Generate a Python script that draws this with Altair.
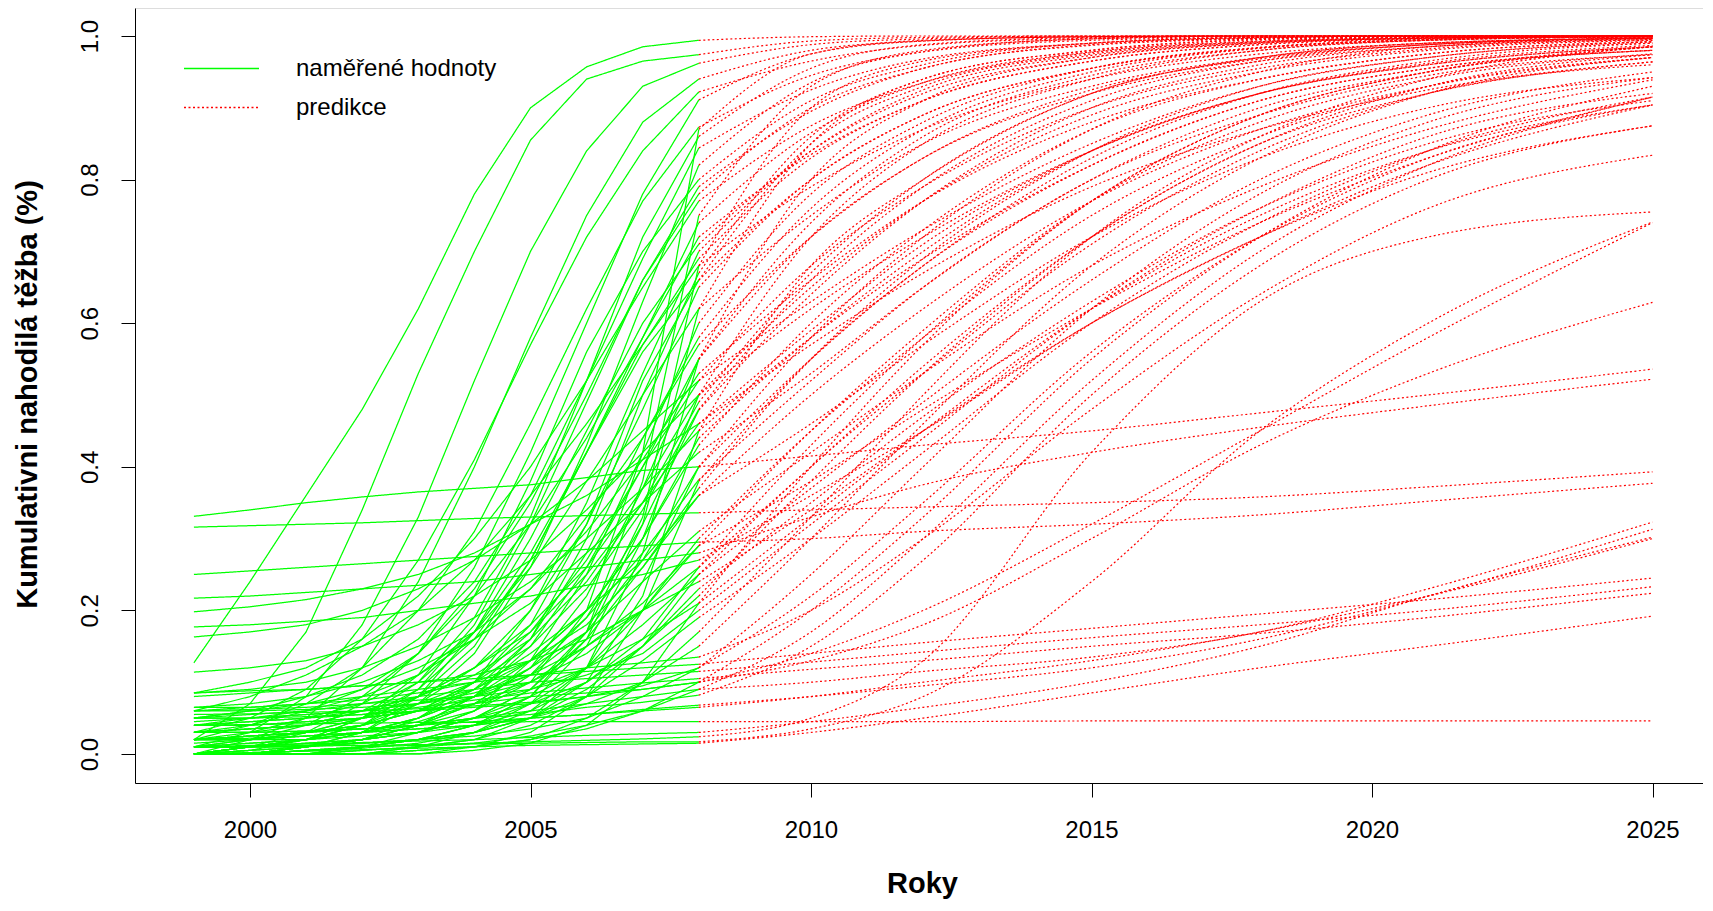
import altair as alt
import pandas as pd

years_measured = [1999, 2000, 2001, 2002, 2003, 2004, 2005, 2006, 2007, 2008]
years_pred = [2008, 2010, 2012, 2015, 2018, 2021, 2025]
x_ticks = [2000, 2005, 2010, 2015, 2020, 2025]
y_ticks = [0.0, 0.2, 0.4, 0.6, 0.8, 1.0]
labels = ["naměřené hodnoty", "predikce"]

measured = [
    [0.127, 0.24, 0.36, 0.48, 0.62, 0.78, 0.90, 0.957, 0.985, 0.994],
    [0.02, 0.07, 0.17, 0.34, 0.53, 0.70, 0.855, 0.94, 0.965, 0.974],
    [0.01, 0.03, 0.08, 0.18, 0.33, 0.52, 0.70, 0.84, 0.93, 0.962],
    [0.0, 0.02, 0.05, 0.12, 0.24, 0.40, 0.58, 0.75, 0.88, 0.94],
    [0.03, 0.05, 0.09, 0.16, 0.27, 0.41, 0.57, 0.72, 0.84, 0.922],
    [0.0, 0.01, 0.03, 0.07, 0.14, 0.26, 0.42, 0.60, 0.78, 0.911],
    [0.02, 0.04, 0.07, 0.12, 0.20, 0.31, 0.46, 0.62, 0.77, 0.873],
    [0.0, 0.005, 0.02, 0.05, 0.10, 0.19, 0.33, 0.52, 0.72, 0.86],
    [0.05, 0.06, 0.08, 0.11, 0.16, 0.24, 0.36, 0.52, 0.69, 0.844],
    [0.0, 0.0, 0.01, 0.03, 0.07, 0.14, 0.26, 0.43, 0.63, 0.82],
    [0.01, 0.02, 0.04, 0.08, 0.14, 0.23, 0.35, 0.50, 0.66, 0.79],
    [0.085, 0.10, 0.12, 0.16, 0.22, 0.30, 0.40, 0.52, 0.65, 0.77],
    [0.0, 0.01, 0.02, 0.04, 0.08, 0.15, 0.27, 0.42, 0.58, 0.74],
    [0.03, 0.04, 0.06, 0.09, 0.14, 0.22, 0.32, 0.44, 0.58, 0.72],
    [0.0, 0.0, 0.01, 0.02, 0.05, 0.10, 0.20, 0.35, 0.53, 0.70],
    [0.06, 0.08, 0.11, 0.15, 0.20, 0.27, 0.36, 0.46, 0.57, 0.68],
    [0.01, 0.01, 0.02, 0.04, 0.07, 0.12, 0.20, 0.32, 0.48, 0.65],
    [0.02, 0.03, 0.05, 0.07, 0.11, 0.17, 0.26, 0.38, 0.50, 0.62],
    [0.0, 0.0, 0.0, 0.01, 0.03, 0.06, 0.13, 0.25, 0.42, 0.60],
    [0.04, 0.05, 0.06, 0.08, 0.11, 0.16, 0.23, 0.33, 0.44, 0.57],
    [0.0, 0.01, 0.01, 0.02, 0.04, 0.07, 0.12, 0.22, 0.37, 0.55],
    [0.065, 0.07, 0.08, 0.10, 0.13, 0.17, 0.23, 0.31, 0.41, 0.53],
    [0.01, 0.02, 0.03, 0.05, 0.08, 0.12, 0.18, 0.26, 0.37, 0.50],
    [0.0, 0.0, 0.01, 0.02, 0.03, 0.06, 0.11, 0.19, 0.32, 0.479],
    [0.03, 0.035, 0.04, 0.06, 0.08, 0.12, 0.17, 0.25, 0.35, 0.46],
    [0.0, 0.01, 0.02, 0.03, 0.05, 0.08, 0.13, 0.20, 0.30, 0.44],
    [0.05, 0.06, 0.07, 0.09, 0.12, 0.16, 0.21, 0.28, 0.35, 0.42],
    [0.331, 0.34, 0.35, 0.358, 0.365, 0.37, 0.375, 0.385, 0.395, 0.40],
    [0.0, 0.0, 0.01, 0.02, 0.04, 0.07, 0.12, 0.19, 0.28, 0.382],
    [0.02, 0.025, 0.03, 0.04, 0.06, 0.09, 0.14, 0.20, 0.27, 0.36],
    [0.316, 0.318, 0.32, 0.322, 0.325, 0.328, 0.33, 0.332, 0.334, 0.336],
    [0.0, 0.01, 0.02, 0.03, 0.05, 0.08, 0.12, 0.17, 0.24, 0.31],
    [0.25, 0.255, 0.26, 0.265, 0.27, 0.275, 0.28, 0.285, 0.29, 0.295],
    [0.01, 0.015, 0.02, 0.03, 0.045, 0.07, 0.10, 0.15, 0.21, 0.29],
    [0.217, 0.22, 0.225, 0.23, 0.235, 0.24, 0.25, 0.26, 0.27, 0.28],
    [0.198, 0.205, 0.215, 0.23, 0.25, 0.28, 0.32, 0.36, 0.41, 0.46],
    [0.177, 0.18, 0.185, 0.19, 0.20, 0.21, 0.22, 0.235, 0.25, 0.27],
    [0.163, 0.17, 0.18, 0.20, 0.23, 0.27, 0.32, 0.38, 0.45, 0.52],
    [0.114, 0.12, 0.13, 0.15, 0.18, 0.22, 0.27, 0.34, 0.42, 0.50],
    [0.085, 0.09, 0.10, 0.12, 0.15, 0.19, 0.24, 0.30, 0.37, 0.45],
    [0.0, 0.0, 0.005, 0.01, 0.012, 0.015, 0.017, 0.019, 0.021, 0.024],
    [0.01, 0.01, 0.011, 0.012, 0.013, 0.014, 0.015, 0.016, 0.017, 0.017],
    [0.03, 0.035, 0.04, 0.05, 0.06, 0.07, 0.08, 0.085, 0.09, 0.10],
    [0.02, 0.025, 0.03, 0.035, 0.04, 0.05, 0.055, 0.065, 0.072, 0.082],
    [0.085, 0.088, 0.09, 0.095, 0.10, 0.105, 0.11, 0.12, 0.127, 0.135],
    [0.06, 0.065, 0.07, 0.08, 0.09, 0.10, 0.11, 0.115, 0.12, 0.125],
    [0.05, 0.055, 0.06, 0.07, 0.08, 0.09, 0.10, 0.105, 0.11, 0.115],
    [0.04, 0.045, 0.05, 0.055, 0.065, 0.075, 0.085, 0.092, 0.099, 0.105],
    [0.02, 0.025, 0.03, 0.035, 0.04, 0.05, 0.06, 0.07, 0.08, 0.09],
    [0.015, 0.02, 0.025, 0.03, 0.035, 0.04, 0.05, 0.055, 0.062, 0.068],
    [0.01, 0.012, 0.014, 0.016, 0.018, 0.02, 0.023, 0.026, 0.028, 0.03],
    [0.0, 0.002, 0.004, 0.006, 0.008, 0.01, 0.012, 0.013, 0.014, 0.015],
    [0.04, 0.041, 0.042, 0.043, 0.044, 0.044, 0.045, 0.045, 0.045, 0.045],
    [0.0, 0.0, 0.0, 0.0, 0.01, 0.02, 0.05, 0.12, 0.28, 0.55],
    [0.0, 0.0, 0.0, 0.01, 0.02, 0.04, 0.08, 0.16, 0.32, 0.62],
    [0.01, 0.01, 0.015, 0.02, 0.03, 0.05, 0.09, 0.17, 0.33, 0.68],
    [0.0, 0.0, 0.005, 0.01, 0.02, 0.04, 0.08, 0.17, 0.38, 0.75],
    [0.02, 0.02, 0.025, 0.03, 0.04, 0.06, 0.10, 0.20, 0.42, 0.87],
    [0.0, 0.005, 0.01, 0.015, 0.02, 0.03, 0.05, 0.10, 0.22, 0.45],
    [0.04, 0.04, 0.045, 0.05, 0.06, 0.08, 0.11, 0.17, 0.27, 0.40],
    [0.0, 0.0, 0.0, 0.005, 0.01, 0.02, 0.04, 0.08, 0.15, 0.25],
    [0.06, 0.062, 0.065, 0.07, 0.075, 0.08, 0.09, 0.11, 0.14, 0.20],
    [0.01, 0.01, 0.012, 0.015, 0.02, 0.03, 0.05, 0.09, 0.15, 0.23],
    [0.08, 0.085, 0.09, 0.095, 0.10, 0.11, 0.13, 0.16, 0.20, 0.24],
    [0.0, 0.002, 0.004, 0.008, 0.015, 0.03, 0.06, 0.12, 0.24, 0.40],
    [0.03, 0.03, 0.032, 0.035, 0.04, 0.05, 0.07, 0.10, 0.15, 0.22],
    [0.0, 0.0, 0.0, 0.0, 0.005, 0.01, 0.02, 0.05, 0.10, 0.17],
    [0.02, 0.022, 0.025, 0.03, 0.035, 0.04, 0.05, 0.07, 0.10, 0.15],
    [0.05, 0.05, 0.052, 0.055, 0.06, 0.065, 0.07, 0.08, 0.095, 0.12],
    [0.0, 0.0, 0.0, 0.0, 0.0, 0.01, 0.03, 0.08, 0.20, 0.38],
    [0.01, 0.01, 0.01, 0.02, 0.03, 0.05, 0.09, 0.16, 0.26, 0.36],
    [0.02, 0.02, 0.03, 0.04, 0.06, 0.10, 0.17, 0.27, 0.40, 0.52],
    [0.0, 0.0, 0.01, 0.03, 0.08, 0.17, 0.30, 0.45, 0.60, 0.71],
    [0.03, 0.03, 0.04, 0.06, 0.10, 0.17, 0.28, 0.42, 0.56, 0.66],
    [0.0, 0.01, 0.02, 0.05, 0.11, 0.22, 0.38, 0.56, 0.70, 0.80],
    [0.01, 0.01, 0.02, 0.04, 0.09, 0.18, 0.32, 0.49, 0.66, 0.78],
    [0.05, 0.05, 0.055, 0.06, 0.07, 0.09, 0.13, 0.20, 0.30, 0.43],
    [0.0, 0.0, 0.0, 0.01, 0.02, 0.04, 0.07, 0.12, 0.20, 0.30],
    [0.04, 0.04, 0.045, 0.05, 0.06, 0.07, 0.09, 0.12, 0.16, 0.21],
    [0.02, 0.02, 0.02, 0.025, 0.03, 0.04, 0.06, 0.10, 0.16, 0.26],
    [0.0, 0.0, 0.005, 0.01, 0.02, 0.03, 0.05, 0.08, 0.13, 0.19],
    [0.06, 0.06, 0.062, 0.065, 0.07, 0.08, 0.10, 0.14, 0.20, 0.29],
    [0.01, 0.015, 0.02, 0.03, 0.05, 0.09, 0.16, 0.28, 0.44, 0.58],
    [0.0, 0.0, 0.0, 0.0, 0.01, 0.03, 0.07, 0.15, 0.30, 0.50],
    [0.03, 0.035, 0.04, 0.05, 0.07, 0.10, 0.15, 0.23, 0.34, 0.48],
    [0.0, 0.005, 0.01, 0.02, 0.04, 0.08, 0.16, 0.30, 0.50, 0.67],
    [0.02, 0.02, 0.03, 0.05, 0.09, 0.16, 0.27, 0.42, 0.57, 0.69],
    [0.045, 0.05, 0.055, 0.06, 0.07, 0.085, 0.11, 0.15, 0.20, 0.26],
    [0.01, 0.01, 0.012, 0.015, 0.02, 0.025, 0.035, 0.05, 0.08, 0.12],
    [0.0, 0.0, 0.0, 0.005, 0.01, 0.015, 0.025, 0.04, 0.06, 0.09],
    [0.055, 0.056, 0.058, 0.06, 0.063, 0.067, 0.072, 0.08, 0.09, 0.10],
    [0.03, 0.03, 0.032, 0.035, 0.04, 0.045, 0.05, 0.055, 0.06, 0.065],
    [0.0, 0.0, 0.0, 0.0, 0.0, 0.005, 0.015, 0.04, 0.10, 0.21],
    [0.02, 0.025, 0.03, 0.04, 0.06, 0.10, 0.18, 0.32, 0.52, 0.66],
    [0.0, 0.0, 0.01, 0.02, 0.04, 0.08, 0.15, 0.26, 0.40, 0.55],
    [0.04, 0.045, 0.05, 0.06, 0.08, 0.11, 0.16, 0.24, 0.35, 0.49],
    [0.01, 0.01, 0.015, 0.02, 0.03, 0.05, 0.08, 0.12, 0.18, 0.25],
    [0.0, 0.0, 0.0, 0.0, 0.005, 0.01, 0.02, 0.035, 0.06, 0.10],
    [0.065, 0.065, 0.07, 0.075, 0.085, 0.10, 0.13, 0.18, 0.26, 0.37],
]

# predictions for 2010, 2012, 2015, 2018, 2021, 2025 (2008 continues from the last measured value)
predicted = [
    [0.999, 1.0, 1.0, 1.0, 1.0, 1.0],
    [0.993, 0.998, 1.0, 1.0, 1.0, 1.0],
    [0.988, 0.996, 1.0, 1.0, 1.0, 1.0],
    [0.98, 0.993, 0.999, 1.0, 1.0, 1.0],
    [0.965, 0.987, 0.997, 1.0, 1.0, 1.0],
    [0.975, 0.993, 0.999, 1.0, 1.0, 1.0],
    [0.945, 0.978, 0.994, 0.998, 1.0, 1.0],
    [0.955, 0.988, 0.998, 1.0, 1.0, 1.0],
    [0.925, 0.968, 0.99, 0.997, 0.999, 1.0],
    [0.935, 0.978, 0.996, 0.999, 1.0, 1.0],
    [0.895, 0.955, 0.987, 0.996, 0.999, 1.0],
    [0.875, 0.935, 0.977, 0.992, 0.997, 0.999],
    [0.865, 0.935, 0.978, 0.993, 0.998, 1.0],
    [0.835, 0.91, 0.965, 0.988, 0.996, 0.999],
    [0.84, 0.925, 0.973, 0.991, 0.997, 1.0],
    [0.79, 0.87, 0.94, 0.975, 0.99, 0.997],
    [0.80, 0.89, 0.955, 0.983, 0.994, 0.999],
    [0.75, 0.85, 0.93, 0.97, 0.988, 0.997],
    [0.78, 0.88, 0.955, 0.984, 0.995, 0.999],
    [0.72, 0.83, 0.92, 0.965, 0.985, 0.995],
    [0.72, 0.83, 0.925, 0.968, 0.988, 0.997],
    [0.66, 0.77, 0.88, 0.94, 0.975, 0.992],
    [0.65, 0.77, 0.89, 0.95, 0.98, 0.994],
    [0.64, 0.77, 0.90, 0.96, 0.985, 0.996],
    [0.59, 0.71, 0.84, 0.92, 0.96, 0.985],
    [0.58, 0.70, 0.84, 0.92, 0.962, 0.987],
    [0.53, 0.65, 0.80, 0.89, 0.945, 0.974],
    [0.415, 0.43, 0.45, 0.475, 0.50, 0.536],
    [0.52, 0.65, 0.80, 0.90, 0.95, 0.985],
    [0.46, 0.57, 0.72, 0.83, 0.90, 0.942],
    [0.34, 0.344, 0.35, 0.358, 0.372, 0.393],
    [0.42, 0.53, 0.68, 0.79, 0.87, 0.939],
    [0.30, 0.31, 0.32, 0.333, 0.352, 0.377],
    [0.38, 0.48, 0.62, 0.74, 0.83, 0.915],
    [0.33, 0.375, 0.42, 0.455, 0.485, 0.522],
    [0.57, 0.67, 0.79, 0.87, 0.925, 0.964],
    [0.36, 0.45, 0.60, 0.72, 0.82, 0.904],
    [0.63, 0.73, 0.85, 0.93, 0.97, 0.992],
    [0.62, 0.72, 0.84, 0.92, 0.96, 0.985],
    [0.58, 0.69, 0.82, 0.91, 0.955, 0.98],
    [0.05, 0.13, 0.42, 0.63, 0.72, 0.755],
    [0.035, 0.08, 0.24, 0.45, 0.60, 0.741],
    [0.13, 0.18, 0.30, 0.43, 0.53, 0.629],
    [0.15, 0.27, 0.50, 0.68, 0.80, 0.875],
    [0.20, 0.30, 0.48, 0.64, 0.76, 0.834],
    [0.14, 0.155, 0.175, 0.195, 0.215, 0.245],
    [0.128, 0.142, 0.162, 0.18, 0.20, 0.233],
    [0.118, 0.13, 0.15, 0.168, 0.19, 0.224],
    [0.10, 0.115, 0.135, 0.17, 0.23, 0.323],
    [0.08, 0.095, 0.12, 0.16, 0.22, 0.313],
    [0.045, 0.065, 0.10, 0.15, 0.22, 0.302],
    [0.03, 0.05, 0.085, 0.12, 0.15, 0.192],
    [0.045, 0.045, 0.046, 0.046, 0.046, 0.046],
    [0.80, 0.91, 0.97, 0.99, 0.997, 1.0],
    [0.85, 0.94, 0.98, 0.995, 0.999, 1.0],
    [0.90, 0.965, 0.99, 0.998, 1.0, 1.0],
    [0.93, 0.98, 0.996, 1.0, 1.0, 1.0],
    [0.975, 0.994, 0.999, 1.0, 1.0, 1.0],
    [0.68, 0.80, 0.92, 0.97, 0.99, 0.997],
    [0.55, 0.68, 0.82, 0.91, 0.955, 0.98],
    [0.37, 0.49, 0.66, 0.80, 0.89, 0.95],
    [0.32, 0.44, 0.62, 0.76, 0.86, 0.92],
    [0.35, 0.47, 0.63, 0.76, 0.85, 0.91],
    [0.34, 0.45, 0.60, 0.72, 0.81, 0.875],
    [0.58, 0.72, 0.87, 0.95, 0.985, 0.997],
    [0.38, 0.53, 0.72, 0.85, 0.93, 0.974],
    [0.33, 0.50, 0.72, 0.86, 0.94, 0.985],
    [0.30, 0.46, 0.68, 0.83, 0.92, 0.97],
    [0.25, 0.40, 0.62, 0.78, 0.88, 0.942],
    [0.55, 0.68, 0.83, 0.92, 0.965, 0.99],
    [0.50, 0.62, 0.77, 0.87, 0.93, 0.97],
    [0.68, 0.79, 0.90, 0.955, 0.982, 0.995],
    [0.84, 0.92, 0.97, 0.99, 0.997, 1.0],
    [0.80, 0.89, 0.955, 0.984, 0.995, 0.999],
    [0.91, 0.96, 0.99, 0.998, 1.0, 1.0],
    [0.90, 0.955, 0.988, 0.997, 1.0, 1.0],
    [0.60, 0.73, 0.87, 0.94, 0.975, 0.992],
    [0.45, 0.58, 0.75, 0.86, 0.93, 0.97],
    [0.33, 0.45, 0.62, 0.75, 0.84, 0.904],
    [0.43, 0.58, 0.77, 0.89, 0.95, 0.98],
    [0.30, 0.42, 0.60, 0.74, 0.84, 0.915],
    [0.45, 0.59, 0.77, 0.88, 0.94, 0.975],
    [0.76, 0.87, 0.95, 0.983, 0.995, 0.999],
    [0.72, 0.85, 0.94, 0.98, 0.994, 0.999],
    [0.66, 0.79, 0.91, 0.965, 0.988, 0.997],
    [0.86, 0.94, 0.98, 0.995, 0.999, 1.0],
    [0.83, 0.91, 0.965, 0.988, 0.997, 1.0],
    [0.40, 0.54, 0.72, 0.85, 0.92, 0.964],
    [0.22, 0.35, 0.56, 0.72, 0.83, 0.904],
    [0.17, 0.30, 0.52, 0.70, 0.82, 0.915],
    [0.14, 0.20, 0.32, 0.45, 0.58, 0.74],
    [0.08, 0.10, 0.13, 0.17, 0.22, 0.30],
    [0.40, 0.57, 0.77, 0.89, 0.95, 0.985],
    [0.85, 0.93, 0.975, 0.992, 0.998, 1.0],
    [0.74, 0.86, 0.945, 0.98, 0.994, 0.999],
    [0.67, 0.80, 0.92, 0.97, 0.99, 0.997],
    [0.40, 0.53, 0.71, 0.84, 0.92, 0.96],
    [0.20, 0.33, 0.55, 0.72, 0.84, 0.93],
    [0.55, 0.69, 0.84, 0.93, 0.97, 0.99],
]

rows = []
for i, (m, p) in enumerate(zip(measured, predicted)):
    for yr, v in zip(years_measured, m):
        rows.append({"rada": i, "rok": yr, "hodnota": v, "typ": labels[0]})
    for yr, v in zip(years_pred, [m[-1]] + p):
        rows.append({"rada": i, "rok": yr, "hodnota": v, "typ": labels[1]})
df = pd.DataFrame(rows)

FONT = "Liberation Sans"

legend = alt.Legend(
    title=None, orient="none", legendX=73, legendY=47,
    symbolType="M-3,0L3,0", symbolSize=625, symbolStrokeWidth=1.3,
    labelFont=FONT, labelFontSize=24, labelColor="black", labelLimit=500,
    labelOffset=61, rowPadding=13, padding=0,
)

color = alt.Color("typ:N", scale=alt.Scale(domain=labels, range=["#00FF00", "#FF0000"]), legend=legend)
dash = alt.StrokeDash("typ:N", scale=alt.Scale(domain=labels, range=[[1, 0], [2, 2.5]]), legend=legend)

x = alt.X("rok:Q",
          scale=alt.Scale(domain=[1997.95, 2025.9], nice=False, zero=False),
          axis=alt.Axis(values=x_ticks, format="d", title="Roky", grid=False,
                        labelFont=FONT, labelFontSize=24, labelColor="black", labelPadding=21,
                        tickSize=14, tickColor="black", domainColor="black",
                        titleFont=FONT, titleFontSize=29, titleFontWeight="bold", titleColor="black",
                        titleX=787, titleY=100, titleBaseline="middle", titleAlign="center"))
y = alt.Y("hodnota:Q",
          scale=alt.Scale(domain=[-0.0404, 1.039], nice=False, zero=False),
          axis=alt.Axis(values=y_ticks, format=".1f", title="Kumulativni nahodilá těžba (%)", grid=False,
                        labelFont=FONT, labelFontSize=24, labelColor="black", labelPadding=19,
                        labelAngle=270, labelAlign="center", labelBaseline="bottom",
                        tickSize=14, tickColor="black", domainColor="black",
                        titleFont=FONT, titleFontSize=29, titleFontWeight="bold", titleColor="black",
                        titleAngle=270, titleX=-108, titleY=386, titleBaseline="middle", titleAlign="center"))

green = alt.Chart(df).transform_filter(
    alt.datum.typ == labels[0]
).mark_line(strokeWidth=1.25, interpolate="linear", clip=True).encode(
    x=x, y=y, color=color, strokeDash=dash, detail="rada:N", order="rok:Q"
)
red = alt.Chart(df).transform_filter(
    alt.datum.typ == labels[1]
).mark_line(strokeWidth=1.2, interpolate="monotone", clip=True).encode(
    x=x, y=y, color=color, strokeDash=dash, detail="rada:N", order="rok:Q"
)

chart = alt.layer(green, red).properties(
    width=1568, height=775,
    autosize=alt.AutoSizeParams(type="none"),
    padding={"left": 127, "top": 0, "right": 0, "bottom": 116},
).configure_view(strokeWidth=0).configure(background="white")

chart.save("out.html", embed_options={"renderer": "svg", "actions": False})
